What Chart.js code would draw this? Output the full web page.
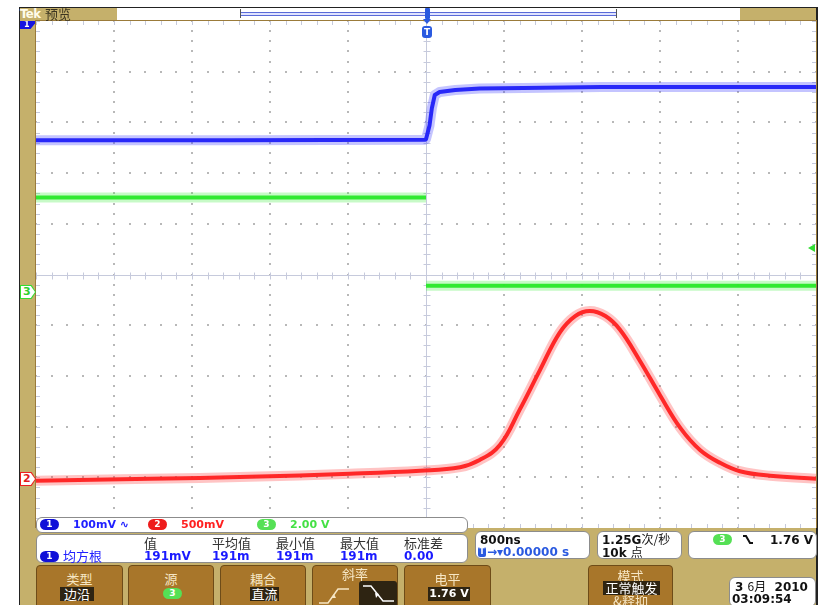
<!DOCTYPE html>
<html>
<head>
<meta charset="utf-8">
<title>Tek 预览</title>
<script src="https://cdn.jsdelivr.net/npm/chart.js@4.4.1/dist/chart.umd.min.js"></script>
<style>
  body { margin:0; width:821px; height:605px; background:#fff; position:relative; overflow:hidden;
         font-family:"DejaVu Sans", sans-serif; }
  .a { position:absolute; white-space:nowrap; }
  .cjk { font-family:"Noto Sans CJK SC", sans-serif; }
  .box { position:absolute; background:#fff; border:1px solid #8c8c8c; border-radius:6px; box-sizing:border-box; }
  .pill { position:absolute; height:11px; width:19px; border-radius:6px; color:#fff;
          font:bold 9px/11px "DejaVu Sans", sans-serif; text-align:center; }
  .btn { position:absolute; top:565px; height:44px; width:87px; background:#a8762a;
         border:1px solid #6e4c18; border-radius:4px; box-sizing:border-box; color:#f6e6c4; }
  .lab { position:absolute; left:0; right:0; text-align:center; font:13px/14px "Noto Sans CJK SC", sans-serif; }
  .sel { position:absolute; background:#2e2412; color:#fff; font:13px/13px "Noto Sans CJK SC", sans-serif; text-align:center; }
  .val { font:bold 12px/12px "DejaVu Sans", sans-serif; color:#1a1aff; }
  .blk { font:bold 12px/12px "DejaVu Sans", sans-serif; color:#111; }
</style>
</head>
<body>
<!-- bezel -->
<div class="a" style="left:19px;top:7px;width:799px;height:600px;background:#c5b06b;border-left:1px solid #222;border-top:1px solid #222;border-right:2px solid #222;box-sizing:border-box"></div>
<div class="a" style="left:35px;top:20px;width:782px;height:508px;background:#9b7b3a"></div>
<canvas id="scope" class="a" width="780" height="507" style="left:36px;top:21px;background:#fff"></canvas>

<!-- top bar -->
<div class="a" style="left:20px;top:7px;font:bold 13px/14px 'DejaVu Sans Condensed',sans-serif;color:#fffbea;letter-spacing:-0.5px">Tek</div>
<div class="a cjk" style="left:45px;top:6px;font-size:13px;line-height:15px;color:#3b3420">预览</div>
<div class="a" style="left:117px;top:8px;width:623px;height:12px;background:#fff"></div>
<div class="a" style="left:240px;top:12px;width:377px;height:2px;border-top:1px solid #5a6ad8;border-bottom:1px solid #5a6ad8;background:#dfe3ff"></div>
<div class="a" style="left:240px;top:9px;width:1px;height:9px;background:#555"></div>
<div class="a" style="left:616px;top:9px;width:1px;height:9px;background:#555"></div>
<div class="a" style="left:425px;top:8px;width:5px;height:11px;background:#2a5ae0;border-radius:1px"></div>
<div class="a" style="left:423px;top:19px;width:0;height:0;border-left:4px solid transparent;border-right:4px solid transparent;border-top:5px solid #2a5ae0"></div>
<div class="a" style="left:422px;top:26px;width:10px;height:12px;background:#2a5ae0;border-radius:3px;color:#fff;font:bold 9px/12px 'DejaVu Sans';text-align:center">T</div>

<!-- channel markers -->
<div class="a" style="left:20px;top:21px;width:15px;height:8px;background:#1414e0;clip-path:polygon(0 0,100% 0,100% 30%,70% 100%,0 100%);color:#fff;font:bold 8px/8px 'DejaVu Sans';padding-left:4px;box-sizing:border-box">1</div>
<div class="a" style="left:20px;top:285px;width:16px;height:14px;background:#33dd33;clip-path:polygon(0 0,72% 0,100% 50%,72% 100%,0 100%)"></div>
<div class="a" style="left:21px;top:286px;width:14px;height:12px;background:#fff;clip-path:polygon(0 0,70% 0,100% 50%,70% 100%,0 100%);color:#2fcf2f;font:bold 11px/12px 'DejaVu Sans';padding-left:2px;box-sizing:border-box">3</div>
<div class="a" style="left:20px;top:472px;width:16px;height:14px;background:#ee2020;clip-path:polygon(0 0,72% 0,100% 50%,72% 100%,0 100%)"></div>
<div class="a" style="left:21px;top:473px;width:14px;height:12px;background:#fff;clip-path:polygon(0 0,70% 0,100% 50%,70% 100%,0 100%);color:#e21c1c;font:bold 11px/12px 'DejaVu Sans';padding-left:2px;box-sizing:border-box">2</div>
<div class="a" style="left:808px;top:244px;width:7px;height:8px;background:#33dd33;clip-path:polygon(0 50%,100% 0,100% 100%)"></div>

<!-- channel scale readout -->
<div class="box" style="left:36px;top:517px;width:432px;height:16px"></div>
<div class="pill" style="left:40px;top:519px;background:#1010d8">1</div>
<div class="a" style="left:73px;top:519px;font:bold 11px/12px 'DejaVu Sans';color:#2020ff">100mV ∿</div>
<div class="pill" style="left:148px;top:519px;background:#ee1c1c">2</div>
<div class="a" style="left:181px;top:519px;font:bold 11px/12px 'DejaVu Sans';color:#ff2020">500mV</div>
<div class="pill" style="left:257px;top:519px;background:#55e055">3</div>
<div class="a" style="left:290px;top:519px;font:bold 11px/12px 'DejaVu Sans';color:#44e044">2.00 V</div>

<!-- measurement readout -->
<div class="box" style="left:36px;top:534px;width:432px;height:29px"></div>
<div class="a cjk" style="left:144px;top:535px;font-size:13px;line-height:15px;color:#333">值</div>
<div class="a cjk" style="left:212px;top:535px;font-size:13px;line-height:15px;color:#333">平均值</div>
<div class="a cjk" style="left:276px;top:535px;font-size:13px;line-height:15px;color:#333">最小值</div>
<div class="a cjk" style="left:340px;top:535px;font-size:13px;line-height:15px;color:#333">最大值</div>
<div class="a cjk" style="left:404px;top:535px;font-size:13px;line-height:15px;color:#333">标准差</div>
<div class="pill" style="left:40px;top:551px;background:#1010d8">1</div>
<div class="a cjk" style="left:63px;top:548px;font-size:13px;line-height:15px;color:#2020ff">均方根</div>
<div class="a val" style="left:144px;top:550px">191mV</div>
<div class="a val" style="left:212px;top:550px">191m</div>
<div class="a val" style="left:276px;top:550px">191m</div>
<div class="a val" style="left:340px;top:550px">191m</div>
<div class="a val" style="left:404px;top:550px">0.00</div>

<!-- horizontal / acquisition / trigger readouts -->
<div class="box" style="left:475px;top:531px;width:115px;height:28px"></div>
<div class="a blk" style="left:480px;top:534px">800ns</div>
<div class="a" style="left:478px;top:547px;width:8px;height:10px;background:#2a5ae0;border-radius:2px;color:#fff;font:bold 8px/10px 'DejaVu Sans';text-align:center">T</div>
<div class="a val" style="left:487px;top:546px;color:#2a5ae0">→▾0.00000 s</div>
<div class="box" style="left:597px;top:531px;width:85px;height:28px"></div>
<div class="a blk" style="left:602px;top:533px">1.25G<span class="cjk" style="font-weight:normal;font-size:12px">次/秒</span></div>
<div class="a blk" style="left:602px;top:546px">10k <span class="cjk" style="font-weight:normal;font-size:12px">点</span></div>
<div class="box" style="left:688px;top:531px;width:129px;height:28px"></div>
<div class="pill" style="left:713px;top:534px;background:#55e055">3</div>
<svg class="a" style="left:742px;top:534px" width="12" height="11"><path d="M1 2 H4 L8 9 H11" stroke="#111" stroke-width="2" fill="none"/></svg>
<div class="a blk" style="left:770px;top:534px">1.76 V</div>

<!-- menu buttons -->
<div class="btn" style="left:36px;width:87px">
  <div class="lab" style="top:6px">类型</div>
  <div class="sel" style="left:23px;top:21px;width:34px;height:14px">边沿</div>
</div>
<div class="btn" style="left:128px;width:86px">
  <div class="lab" style="top:6px">源</div>
  <div class="pill" style="left:34px;top:22px;background:#55e055">3</div>
</div>
<div class="btn" style="left:220px;width:86px">
  <div class="lab" style="top:6px">耦合</div>
  <div class="sel" style="left:29px;top:21px;width:29px;height:14px">直流</div>
</div>
<div class="btn" style="left:312px;width:86px">
  <div class="lab" style="top:1px">斜率</div>
  <svg class="a" style="left:5px;top:19px" width="32" height="20"><path d="M1 18 H10 L20 4 H31" stroke="#f6e6c4" stroke-width="1.5" fill="none"/><path d="M13 13 L16 9 L18 13" fill="#f6e6c4"/></svg>
  <div class="sel" style="left:46px;top:15px;width:38px;height:26px;border-radius:3px">
    <svg width="38" height="26"><path d="M4 5 H12 L24 20 H35" stroke="#fff" stroke-width="1.5" fill="none"/><path d="M16 12 L20 13 L17 17 Z" fill="#fff"/></svg>
  </div>
</div>
<div class="btn" style="left:404px;width:87px">
  <div class="lab" style="top:6px">电平</div>
  <div class="sel" style="left:23px;top:21px;width:42px;height:14px;font:bold 11px/14px 'DejaVu Sans'">1.76 V</div>
</div>
<div class="btn" style="left:588px;width:85px">
  <div class="lab" style="top:3px">模式</div>
  <div class="sel" style="left:14px;top:15px;width:57px;height:14px">正常触发</div>
  <div class="lab" style="top:28px">&amp;释抑</div>
</div>
<div class="box" style="left:729px;top:577px;width:87px;height:30px"></div>
<div class="a blk" style="left:735px;top:580px">3 <span class="cjk" style="font-weight:normal;font-size:12px">6月</span>&nbsp;&nbsp;2010</div>
<div class="a blk" style="left:732px;top:593px">03:09:54</div>

<script>
// time axis in microseconds (800 ns/div), vertical values in screen divisions
const ch1Time = [-4.0, -2.0, -0.01, 0.0, 0.036, 0.06, 0.09, 0.14, 0.3, 0.55, 1.0, 1.8, 3.0, 4.0];
const ch1Div  = [2.65, 2.65, 2.66, 2.67, 2.94, 3.28, 3.54, 3.60, 3.64, 3.67, 3.68, 3.70, 3.70, 3.70];

const ch3Time = [-4.0, 0.0, 0.0, 0.0, 4.0];
const ch3Div  = [1.52, 1.52, null, -0.22, -0.22];

const ch2Time = [-4.0, -2.83, -1.81, -0.78, -0.06, 0.35, 0.55, 0.76, 0.96, 1.17, 1.37, 1.53, 1.68, 1.84, 1.99, 2.19, 2.40, 2.61, 2.81, 3.02, 3.22, 3.53, 4.0];
const ch2Div  = [-4.07, -4.03, -3.99, -3.93, -3.87, -3.80, -3.66, -3.36, -2.67, -1.88, -1.15, -0.82, -0.72, -0.82, -1.09, -1.69, -2.38, -3.03, -3.46, -3.72, -3.88, -3.97, -4.03];

function pts(t, v) { return t.map((x, i) => ({ x: x, y: v[i] })); }

// scope graticule, drawn through the chart scales
const graticule = {
  id: 'graticule',
  beforeDatasetsDraw(chart) {
    const ctx = chart.ctx, a = chart.chartArea;
    const xs = chart.scales.x, ys = chart.scales.y;
    ctx.save();
    const xMinor = [], yMinor = [];
    for (let i = 0; i <= 50; i++) xMinor.push(-4 + i * 0.16);
    for (let i = 0; i <= 50; i++) yMinor.push(-5 + i * 0.2);
    // dotted major lines
    ctx.fillStyle = '#b8b8b8';
    for (let d = 1; d < 10; d++) {
      if (d === 5) continue;
      const px = Math.round(xs.getPixelForValue(-4 + d * 0.8));
      yMinor.forEach(v => ctx.fillRect(px - 1, Math.round(ys.getPixelForValue(v)) - 1, 2, 2));
      const py = Math.round(ys.getPixelForValue(-5 + d));
      xMinor.forEach(t => ctx.fillRect(Math.round(xs.getPixelForValue(t)) - 1, py - 1, 2, 2));
    }
    // centre cross with ticks
    ctx.strokeStyle = '#c6cadc';
    ctx.lineWidth = 1;
    const cx = Math.round(xs.getPixelForValue(0)) + 0.5, cy = Math.round(ys.getPixelForValue(0)) + 0.5;
    ctx.beginPath();
    ctx.moveTo(cx, a.top); ctx.lineTo(cx, a.bottom);
    ctx.moveTo(a.left, cy); ctx.lineTo(a.right, cy);
    xMinor.forEach(t => { const p = Math.round(xs.getPixelForValue(t)) + 0.5; ctx.moveTo(p, cy - 3); ctx.lineTo(p, cy + 4);
      ctx.moveTo(p, a.top); ctx.lineTo(p, a.top + 4); ctx.moveTo(p, a.bottom); ctx.lineTo(p, a.bottom - 4); });
    yMinor.forEach(v => { const p = Math.round(ys.getPixelForValue(v)) + 0.5; ctx.moveTo(cx - 3, p); ctx.lineTo(cx + 4, p);
      ctx.moveTo(a.left, p); ctx.lineTo(a.left + 4, p); ctx.moveTo(a.right, p); ctx.lineTo(a.right - 4, p); });
    ctx.stroke();
    ctx.restore();
  }
};

function trace(t, v, halo, core, tension) {
  return [
    { data: pts(t, v), borderColor: halo, borderWidth: 10, tension: tension },
    { data: pts(t, v), borderColor: core, borderWidth: 4, tension: tension }
  ];
}

new Chart(document.getElementById('scope'), {
  type: 'line',
  data: {
    datasets: [].concat(
      trace(ch3Time, ch3Div, 'rgba(70,240,70,0.30)', 'rgba(30,230,30,0.95)', 0),
      trace(ch2Time, ch2Div, 'rgba(255,60,60,0.30)', 'rgba(255,20,20,0.95)', 0.4),
      trace(ch1Time, ch1Div, 'rgba(60,60,255,0.30)', 'rgba(20,20,245,0.95)', 0)
    )
  },
  options: {
    responsive: false,
    animation: false,
    events: [],
    elements: { point: { radius: 0 }, line: { borderCapStyle: 'butt', borderJoinStyle: 'round' } },
    plugins: { legend: { display: false }, tooltip: { enabled: false } },
    layout: { padding: 0 },
    scales: {
      x: { type: 'linear', min: -4, max: 4, display: false },
      y: { type: 'linear', min: -5, max: 5, display: false }
    }
  },
  plugins: [graticule]
});
</script>
</body>
</html>
